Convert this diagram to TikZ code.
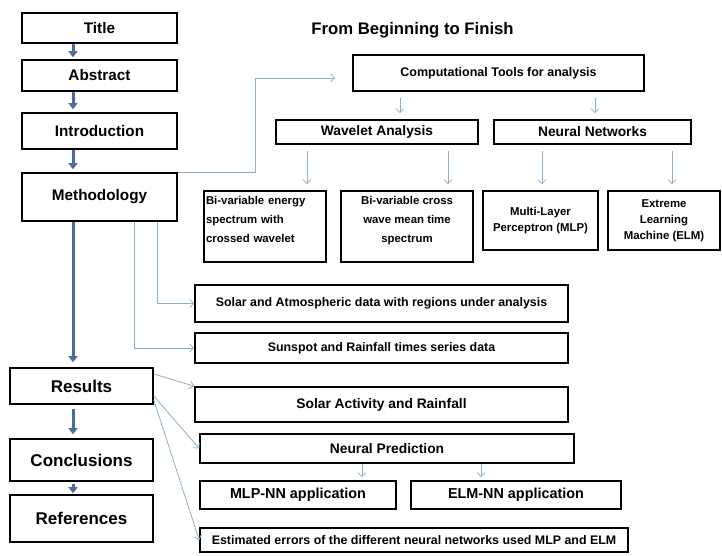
\documentclass[tikz,border=0pt]{standalone}
\usepackage{fontspec}
\setmainfont{Liberation Sans}
\usetikzlibrary{arrows.meta,calc}
\definecolor{bleufonce}{HTML}{4A6D9C}
\definecolor{bleuclair}{HTML}{8FAFC8}
\newcommand{\corps}[2]{\fontsize{#1pt}{#2pt}\selectfont\bfseries}
\begin{document}
\begin{tikzpicture}[x=1pt,y=-1pt]
			% Styles
			\tikzstyle{boite}=[draw=black,line width=1.6pt,fill=white,inner sep=2pt]
			\tikzstyle{grande}=[boite,font=\corps{15.3}{18}]
			\tikzstyle{grande2}=[boite,font=\corps{17}{20}]
			\tikzstyle{moyenne}=[boite,font=\corps{13.8}{16}]
			\tikzstyle{donnee}=[boite,font=\corps{12.4}{15}]
			\tikzstyle{petite}=[boite,font=\corps{11.4}{19},align=center]
			\tikzstyle{petite2}=[boite,font=\corps{11.4}{16},align=center]
			\tikzstyle{grosse fleche}=[draw=bleufonce,line width=3pt,-{Triangle[length=6pt,width=9pt]}]
			\tikzstyle{fleche}=[draw=bleuclair,line width=0.8pt,-{Straight Barb[length=4pt,width=8pt]}]
			\useasboundingbox (0,0) rectangle (722,555);
			% Axe des grosses fleches
			\coordinate (axe) at (73,0);
			% Titre
			\node[font=\corps{16.7}{20}] (entete) at (412.5,30) {From Beginning to Finish};
			% Colonne de gauche
			\node[grande,minimum width=155pt,minimum height=30pt] (titre) at (99.5,28) {Title};
			\node[grande,minimum width=155pt,minimum height=31pt] (resume) at (99.5,75.5) {Abstract};
			\node[grande,minimum width=155pt,minimum height=36pt] (intro) at (99.5,131) {Introduction};
			\node[grande,minimum width=155pt,minimum height=48pt] (methodo) at (99.5,197) {Methodology};
			\node[grande2,minimum width=143pt,minimum height=36pt] (resultats) at (81.5,386) {Results};
			\node[grande2,minimum width=143pt,minimum height=42pt] (conclusions) at (81.5,460) {Conclusions};
			\node[grande2,minimum width=143pt,minimum height=47pt] (references) at (81.5,518.5) {References};
			% Outils
			\node[moyenne,font=\corps{12.5}{15},minimum width=291pt,minimum height=36pt] (outils) at (498.5,73) {Computational Tools for analysis};
			\node[moyenne,minimum width=202pt,minimum height=24pt] (ondelettes) at (377,132) {Wavelet Analysis};
			\node[moyenne,minimum width=197pt,minimum height=24pt] (reseaux) at (592.5,132) {Neural Networks};
			\node[petite,align=left,text width=118pt,minimum height=71pt] (spectre) at (265,226.5) {Bi-variable energy\\spectrum with\\crossed wavelet\\[-5pt]\mbox{}};
			\node[petite,minimum width=132pt,minimum height=71pt] (croise) at (407,226.5) {Bi-variable cross\\wave mean time\\spectrum\\[-5pt]\mbox{}};
			\node[petite2,minimum width=115pt,minimum height=59pt] (mlp) at (540.5,220.5) {Multi-Layer\\Perceptron (MLP)};
			\node[petite2,minimum width=112pt,minimum height=59pt] (elm) at (664,220.5) {Extreme\\Learning\\Machine (ELM)};
			% Donnees et resultats
			\node[donnee,minimum width=373pt,minimum height=37pt] (donnees) at (381.5,303.5) {Solar and Atmospheric data with regions under analysis};
			\node[donnee,minimum width=373pt,minimum height=30pt] (series) at (381.5,348) {Sunspot and Rainfall times series data};
			\node[moyenne,minimum width=373pt,minimum height=35pt] (activite) at (381.5,404.5) {Solar Activity and Rainfall};
			\node[moyenne,minimum width=374pt,minimum height=29pt] (prediction) at (387,448.5) {Neural Prediction};
			\node[moyenne,font=\corps{14.4}{17},minimum width=196pt,minimum height=28pt] (mlpnn) at (298,495) {MLP-NN application};
			\node[moyenne,font=\corps{14.4}{17},minimum width=210pt,minimum height=28pt] (elmnn) at (516,495) {ELM-NN application};
			\node[donnee,minimum width=428pt,minimum height=24pt] (erreurs) at (414,540) {Estimated errors of the different neural networks used MLP and ELM};
			% Grosses fleches
			\draw[grosse fleche,shorten >=2pt] (axe |- titre.south) -- (axe |- resume.north);
			\draw[grosse fleche,shorten >=3pt] (axe |- resume.south) -- (axe |- intro.north);
			\draw[grosse fleche,shorten >=3pt] (axe |- intro.south) -- (axe |- methodo.north);
			\draw[grosse fleche,shorten >=5pt] (axe |- methodo.south) -- (axe |- resultats.north);
			\draw[grosse fleche,shorten <=4pt,shorten >=4pt] (axe |- resultats.south) -- (axe |- conclusions.north);
			\draw[grosse fleche,shorten <=2pt,shorten >=1pt] (axe |- conclusions.south) -- (axe |- references.north);
			% Fleches fines
			\draw[fleche] (methodo.north east) -- ++(78,0) |- ($(outils.west)+(-17,5)$);
			\draw[fleche] ([xshift=-98.5pt,yshift=-6pt]outils.south) -- ([xshift=23pt,yshift=6pt]ondelettes.north);
			\draw[fleche] ([xshift=96.5pt,yshift=-6pt]outils.south) -- ([xshift=2.5pt,yshift=6pt]reseaux.north);
			\draw[fleche] ([xshift=-70pt,yshift=-6pt]ondelettes.south) -- ([xshift=42pt,yshift=6pt]spectre.north);
			\draw[fleche] ([xshift=71pt,yshift=-6pt]ondelettes.south) -- ([xshift=41pt,yshift=6pt]croise.north);
			\draw[fleche] ([xshift=-50.5pt,yshift=-6pt]reseaux.south) -- ([xshift=1.5pt,yshift=6pt]mlp.north);
			\draw[fleche] ([xshift=79.5pt,yshift=-6pt]reseaux.south) -- ([xshift=8pt,yshift=6pt]elm.north);
			\draw[fleche] ($(methodo.south west)+(136.5,0)$) |- (donnees.west);
			\draw[fleche] ($(methodo.south west)+(113.5,0)$) |- (series.west);
			\draw[fleche] ($(resultats.east)+(0,-12)$) -- (activite.north west);
			\draw[fleche] ($(resultats.east)+(0,10)$) -- (prediction.west);
			\draw[fleche] ($(resultats.east)+(0,14)$) -- (erreurs.west);
			\draw[fleche,shorten >=3pt] ([xshift=-25pt]prediction.south) -- ([xshift=64pt]mlpnn.north);
			\draw[fleche,shorten >=3pt] ([xshift=94pt]prediction.south) -- ([xshift=-35pt]elmnn.north);
\end{tikzpicture}
\end{document}
